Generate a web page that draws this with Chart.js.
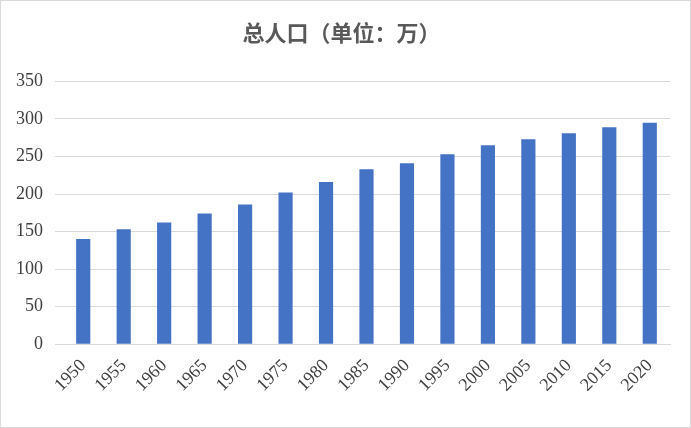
<!DOCTYPE html>
<html>
<head>
<meta charset="utf-8">
<script src="https://cdn.jsdelivr.net/npm/chart.js@4"></script>
<style>
  body { margin: 0; background: #fff; }
  #wrap { position: absolute; left: 0; top: 0; width: 689px; height: 426px; border: 1px solid #d9d9d9; }
</style>
</head>
<body>
<div id="wrap"><canvas id="c"></canvas></div>
<script>
// 年份与总人口（万）
const years = ['1950','1955','1960','1965','1970','1975','1980','1985','1990','1995','2000','2005','2010','2015','2020'];
const population = [140, 153, 162, 174, 186, 202, 216, 233, 241, 253, 265, 273, 281, 289, 295];
const yTicks = [0, 50, 100, 150, 200, 250, 300, 350];

new Chart(document.getElementById('c'), {
    type: 'bar',
    data: {
        labels: years,
        datasets: [{
            data: population,
            backgroundColor: '#4472c4',
            categoryPercentage: 0.7,
            barPercentage: 0.5
        }]
    },
    options: {
        responsive: true,
        maintainAspectRatio: false,
        animation: false,
        layout: { padding: { left: 12, right: 20, top: 14, bottom: 28 } },
        plugins: {
            legend: { display: false },
            tooltip: { enabled: false },
            title: {
                display: true,
                text: '总人口（单位：万）',
                color: '#595959',
                font: { family: '"Noto Sans CJK SC"', size: 22, weight: 'bold' },
                padding: { top: 4, bottom: 36 }
            }
        },
        scales: {
            x: {
                grid: { display: false },
                border: { color: '#d9d9d9' },
                ticks: {
                    color: '#404040',
                    font: { family: '"Liberation Serif"', size: 18 },
                    maxRotation: 45, minRotation: 45,
                    autoSkip: false
                }
            },
            y: {
                min: 0, max: 350,
                afterBuildTicks: axis => { axis.ticks = yTicks.map(v => ({ value: v })); },
                afterFit: axis => { axis.width = 50; },
                grid: { color: '#d9d9d9' },
                border: { display: false },
                ticks: {
                    color: '#404040',
                    font: { family: '"Liberation Serif"', size: 18 },
                    padding: 12
                }
            }
        }
    }
});
</script>
</body>
</html>
